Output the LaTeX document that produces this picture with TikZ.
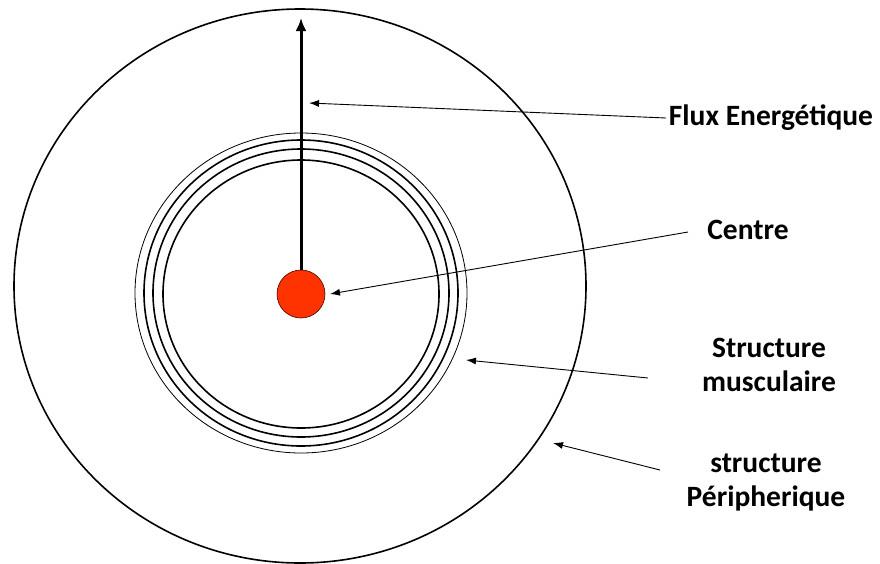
\documentclass[tikz,border=0pt]{standalone}
\usepackage{fontspec}
\setmainfont{Carlito}
\usetikzlibrary{arrows.meta}
\begin{document}
\begin{tikzpicture}[x=1pt,y=-1pt,
  ring/.style={draw=black,line width=1.6pt},
  thinring/.style={draw=black,line width=0.8pt},
  pointer/.style={draw=black,line width=0.9pt,-{Latex[length=10pt,width=7pt]}},
  label/.style={font=\bfseries\fontsize{29.5}{34}\selectfont,align=center,inner sep=0pt}]
\useasboundingbox (0,0) rectangle (880,563);
% outer boundary
\draw[line width=1.6pt] (300,286) ellipse [x radius=286, y radius=277];
% muscular rings
\draw[thinring] (301,293) ellipse [x radius=166, y radius=160];
\draw[ring] (301,293) ellipse [x radius=157, y radius=153];
\draw[ring] (301,293) ellipse [x radius=148, y radius=144];
\draw[ring] (301,294) ellipse [x radius=138, y radius=134];
% centre dot
\node[circle,draw=black!70!red,line width=0.6pt,fill={rgb,255:red,255;green,51;blue,0},minimum size=48pt,inner sep=0pt] (dot) at (301,294) {};
\coordinate (top) at (301,18);
\draw[line width=3pt,-{Latex[length=13pt,width=11pt]}] (dot.north) -- (top);
% labels
\node[label] (flux) at (771,118) {Flux Energétique};
\node[label] (centre) at (748,230) {Centre};
\node[label] (musc) at (769,365) {Structure\\musculaire};
\node[label] (peri) at (766,483) {structure\\Péripherique};
% connector ends
\coordinate (fluxs) at (666,118);
\coordinate (fluxe) at (309,103);
\coordinate (centres) at (688,232);
\coordinate (centree) at (330,294);
\coordinate (muscs) at (648,378);
\coordinate (musce) at (466,360);
\coordinate (peris) at (660,470);
\coordinate (perie) at (553,443);
\draw[pointer] (fluxs) -- (fluxe);
\draw[pointer] (centres) -- (centree);
\draw[pointer] (muscs) -- (musce);
\draw[pointer] (peris) -- (perie);
\end{tikzpicture}
\end{document}
